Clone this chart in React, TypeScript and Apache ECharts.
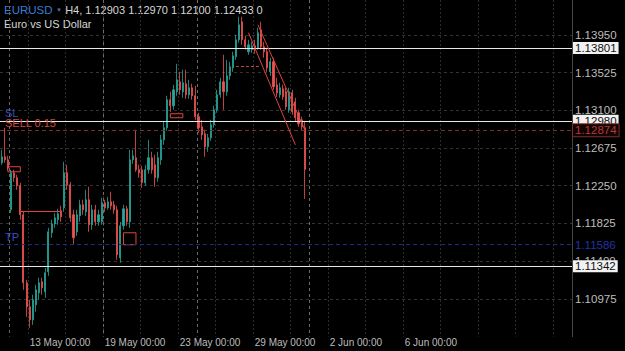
import React, { useEffect, useRef } from 'react';
import * as echarts from 'echarts';

// ---- data ----
const symbolName = 'EURUSD';
const headerInfo = 'H4, 1.12903 1.12970 1.12100 1.12433 0';
const symbolDesc = 'Euro vs US Dollar';

// number of H4 slots across the plot (past candles + chart shift / future)
const slotCount = 183;

// [open, close, low, high]
const candles: number[][] = [
  [1.12508, 1.12575, 1.12485, 1.12654],
  [1.12575, 1.12541, 1.12508, 1.12902],
  [1.12541, 1.12451, 1.12429, 1.12586],
  [1.11978, 1.12395, 1.11944, 1.12429],
  [1.12395, 1.12339, 1.12293, 1.12429],
  [1.12339, 1.12248, 1.12203, 1.12372],
  [1.12248, 1.11922, 1.11865, 1.12282],
  [1.11922, 1.11155, 1.11076, 1.11955],
  [1.11155, 1.10885, 1.10772, 1.11189],
  [1.10885, 1.10738, 1.10648, 1.10964],
  [1.10738, 1.10964, 1.10682, 1.1102],
  [1.10907, 1.11076, 1.10829, 1.11133],
  [1.11043, 1.11155, 1.10964, 1.11212],
  [1.11167, 1.11099, 1.1102, 1.11212],
  [1.11054, 1.11268, 1.10986, 1.11324],
  [1.11279, 1.1173, 1.11234, 1.11775],
  [1.11719, 1.1182, 1.11662, 1.11865],
  [1.1182, 1.11888, 1.11775, 1.11944],
  [1.11865, 1.11933, 1.11809, 1.11989],
  [1.11967, 1.11899, 1.11843, 1.12023],
  [1.12, 1.12395, 1.11955, 1.12519],
  [1.12395, 1.1226, 1.12203, 1.12485],
  [1.1226, 1.11888, 1.11843, 1.12293],
  [1.11922, 1.11662, 1.11584, 1.11978],
  [1.1173, 1.11922, 1.11685, 1.11978],
  [1.1191, 1.12034, 1.11843, 1.12091],
  [1.12034, 1.11978, 1.11922, 1.12091],
  [1.11955, 1.12091, 1.1191, 1.12203],
  [1.12091, 1.11809, 1.1173, 1.12237],
  [1.11809, 1.11978, 1.11753, 1.12034],
  [1.11978, 1.11843, 1.11798, 1.12034],
  [1.11843, 1.11922, 1.11798, 1.11978],
  [1.11843, 1.12057, 1.11809, 1.12113],
  [1.12057, 1.12, 1.11955, 1.12091],
  [1.12, 1.12068, 1.11978, 1.12124],
  [1.12068, 1.12023, 1.11978, 1.12181],
  [1.12034, 1.11978, 1.11933, 1.12079],
  [1.11978, 1.11471, 1.11415, 1.12023],
  [1.11437, 1.11798, 1.11381, 1.11843],
  [1.11798, 1.11989, 1.11753, 1.12034],
  [1.11989, 1.11843, 1.11798, 1.12023],
  [1.11843, 1.12541, 1.11775, 1.12654],
  [1.12541, 1.12586, 1.12496, 1.12654],
  [1.12564, 1.12429, 1.12406, 1.12879],
  [1.12429, 1.12395, 1.12339, 1.12485],
  [1.12429, 1.12282, 1.12226, 1.12474],
  [1.12282, 1.12429, 1.12248, 1.12485],
  [1.12429, 1.12564, 1.12384, 1.12767],
  [1.12564, 1.12429, 1.12384, 1.12632],
  [1.12485, 1.12339, 1.12237, 1.12598],
  [1.12339, 1.12564, 1.12293, 1.12632],
  [1.12541, 1.12767, 1.12485, 1.12823],
  [1.12767, 1.12902, 1.1271, 1.1297],
  [1.12902, 1.13218, 1.12868, 1.13263],
  [1.13218, 1.1315, 1.13082, 1.13308],
  [1.1315, 1.1333, 1.13105, 1.13387],
  [1.13308, 1.13443, 1.13263, 1.13623],
  [1.1342, 1.1333, 1.13274, 1.13533],
  [1.13308, 1.13409, 1.1324, 1.13556],
  [1.13398, 1.13274, 1.13229, 1.13556],
  [1.13274, 1.13353, 1.13229, 1.13443],
  [1.13353, 1.13263, 1.13218, 1.13398],
  [1.13263, 1.13026, 1.12992, 1.13375],
  [1.13026, 1.12902, 1.12846, 1.13071],
  [1.12913, 1.12823, 1.12767, 1.12992],
  [1.12834, 1.12688, 1.12575, 1.12879],
  [1.12688, 1.12789, 1.12632, 1.12834],
  [1.12789, 1.12936, 1.12756, 1.12992],
  [1.12936, 1.13105, 1.12902, 1.1315],
  [1.13105, 1.13274, 1.13071, 1.1333],
  [1.13274, 1.1342, 1.1324, 1.13465],
  [1.1342, 1.13308, 1.13105, 1.13725],
  [1.13308, 1.13488, 1.13263, 1.13668],
  [1.13488, 1.13589, 1.13443, 1.13646],
  [1.13578, 1.13713, 1.13533, 1.13758],
  [1.13702, 1.13894, 1.13668, 1.1395],
  [1.13894, 1.14063, 1.1386, 1.14153],
  [1.14096, 1.13894, 1.13837, 1.14153],
  [1.13894, 1.13815, 1.13781, 1.13939],
  [1.13758, 1.13837, 1.13725, 1.13894],
  [1.13781, 1.13826, 1.13747, 1.13871],
  [1.13826, 1.13781, 1.13736, 1.13894],
  [1.13804, 1.13973, 1.13781, 1.14029],
  [1.14006, 1.13815, 1.13781, 1.14096],
  [1.13815, 1.13758, 1.13691, 1.13871],
  [1.13758, 1.13578, 1.13533, 1.13804],
  [1.13533, 1.13646, 1.13488, 1.13691],
  [1.13646, 1.13364, 1.1333, 1.13691],
  [1.13387, 1.13296, 1.13251, 1.13465],
  [1.13274, 1.13353, 1.1324, 1.13409],
  [1.13341, 1.13251, 1.13218, 1.13387],
  [1.13308, 1.13139, 1.13105, 1.13353],
  [1.13105, 1.13308, 1.13071, 1.13353],
  [1.13296, 1.13082, 1.13048, 1.1333],
  [1.13195, 1.13015, 1.1297, 1.1324],
  [1.13071, 1.12947, 1.12913, 1.13105],
  [1.12992, 1.12913, 1.12879, 1.13026],
  [1.12903, 1.12433, 1.121, 1.1297],
];

// time axis labels and the slots they sit on
const timeLabels = ['13 May 00:00', '19 May 00:00', '23 May 00:00', '29 May 00:00', '2 Jun 00:00', '6 Jun 00:00'];
const timeLabelSlots = [9, 33, 57, 81, 105, 129];
const weekSeparatorSlots = [3, 33, 63, 99];

// price axis
const priceMin = 1.1055;
const priceMax = 1.14342;
const priceStep = 0.00425;

// horizontal levels
const userLevels = [1.13801, 1.1298, 1.11342];
const entryLevel = 1.12874;
const entryText = 'SELL 0.15';
const stopLevel = 1.1298;
const stopText = 'SL';
const takeLevel = 1.11586;
const takeText = 'TP';

// channel lines [slot, price] -> [slot, price]
const channelLines = [
  [[82, 1.14063], [97, 1.12879]],
  [[79, 1.13973], [94, 1.1271]],
];
// trade history marks
const tradeConnector = [[6, 1.11967], [19, 1.11967]];
const tradeDashed = [[75, 1.13601], [83, 1.13601]];
const tradeBoxes = [
  [[2, 1.12463], [6, 1.12406]],
  [[39, 1.11719], [43, 1.11584]],
  [[54, 1.1306], [58, 1.13015]],
];

const FONT = '"Liberation Sans", Arial, sans-serif';
const UP = '#26a69a';
const DOWN = '#ef5350';
const MARK_RED = '#e0453d';

export default function App() {
  const ref = useRef<HTMLDivElement>(null);

  useEffect(() => {
    document.body.style.margin = '0';
    document.body.style.background = '#000';
    const chart = echarts.init(ref.current!, null, { renderer: 'svg' });

    const slots = Array.from({ length: slotCount }, (_, i) => String(i));
    const labelMap: Record<number, string> = {};
    timeLabelSlots.forEach((s, i) => (labelMap[s] = timeLabels[i]));

    const boxLabel = (bg: string, fg: string, border?: string) => ({
      show: true,
      position: 'end',
      distance: 1,
      formatter: (p: any) => Number(p.value).toFixed(5),
      backgroundColor: bg,
      color: fg,
      borderColor: border || 'transparent',
      borderWidth: border ? 1 : 0,
      padding: [0, 2, 0, 2],
      lineHeight: 12,
      fontSize: 11.5,
      fontFamily: FONT,
    });
    const startLabel = (text: string, color: string) => ({
      show: true,
      position: 'insideStartTop',
      distance: [5, 2],
      formatter: text,
      color,
      fontSize: 11,
      fontFamily: FONT,
    });

    const redSolid = { color: MARK_RED, width: 1, type: 'solid', opacity: 1 };
    const redDash = { color: '#c0443a', width: 1, type: [3, 2], opacity: 1 };

    const markLineData: any[] = [];
    userLevels.forEach((v) => {
      markLineData.push({
        yAxis: v,
        lineStyle: { color: '#e8e8e8', width: 1.2, type: 'solid' },
        label: boxLabel('#f2f2f2', '#111'),
      });
    });
    markLineData.push({
      yAxis: stopLevel,
      lineStyle: { color: '#e8e8e8', width: 1.2, type: 'solid' },
      label: startLabel(stopText, '#3550b5'),
    });
    markLineData.push({
      yAxis: entryLevel,
      lineStyle: { color: '#7d2e2b', width: 1, type: [4, 3] },
      label: boxLabel('#120404', '#b03c36', '#7d2e2b'),
    });
    markLineData.push({
      yAxis: entryLevel,
      lineStyle: { color: '#7d2e2b', width: 1, type: [4, 3] },
      label: startLabel(entryText, '#d0473f'),
    });
    markLineData.push({
      yAxis: takeLevel,
      lineStyle: { color: '#1c2a8c', width: 1, type: [4, 3] },
      label: boxLabel('rgba(0,0,0,0)', '#2233a8'),
    });
    markLineData.push({
      yAxis: takeLevel,
      lineStyle: { color: '#1c2a8c', width: 1, type: [4, 3] },
      label: startLabel(takeText, '#3550c5'),
    });
    channelLines.forEach((ln) => {
      markLineData.push([
        { coord: ln[0], lineStyle: redSolid, label: { show: false } },
        { coord: ln[1], lineStyle: redSolid, label: { show: false } },
      ]);
    });
    markLineData.push([
      { coord: tradeConnector[0], lineStyle: redSolid, label: { show: false } },
      { coord: tradeConnector[1], lineStyle: redSolid, label: { show: false } },
    ]);
    markLineData.push([
      { coord: tradeDashed[0], lineStyle: redDash, label: { show: false } },
      { coord: tradeDashed[1], lineStyle: redDash, label: { show: false } },
    ]);

    chart.setOption({
      animation: false,
      backgroundColor: '#000',
      graphic: [
        {
          type: 'text',
          left: 4,
          top: 4,
          silent: true,
          style: {
            text: `{a|${symbolName}} {t|▼} {b|${headerInfo}}`,
            fontFamily: FONT,
            rich: {
              a: { fill: '#3a7bd5', fontSize: 11.5, fontFamily: FONT },
              t: { fill: '#5a6f9a', fontSize: 6, fontFamily: FONT },
              b: { fill: '#d6d6d6', fontSize: 11, fontFamily: FONT },
            },
          },
        },
        {
          type: 'text',
          left: 4,
          top: 18,
          silent: true,
          style: { text: symbolDesc, fill: '#d6d6d6', fontSize: 11, fontFamily: FONT },
        },
      ],
      grid: { left: 0, right: 53, top: 0, bottom: 14.5, containLabel: false },
      xAxis: [
        {
          type: 'category',
          data: slots,
          boundaryGap: true,
          axisLine: { show: false },
          axisTick: { show: false },
          axisLabel: {
            interval: (i: number) => labelMap[i] !== undefined,
            formatter: (_v: string, i: number) => labelMap[i] || '',
            align: 'left',
            color: '#bdbdbd',
            fontSize: 10,
            fontFamily: FONT,
            margin: 1,
          },
          splitLine: {
            show: true,
            interval: (i: number) => i % 12 === 9,
            lineStyle: { color: '#2c2c2c', type: [2, 2], width: 1 },
          },
        },
        {
          type: 'category',
          data: slots,
          boundaryGap: true,
          position: 'bottom',
          axisLine: { show: false },
          axisTick: { show: false },
          axisLabel: { show: false },
          splitLine: {
            show: true,
            interval: (i: number) => weekSeparatorSlots.includes(i),
            lineStyle: { color: '#6a6a6a', type: [3, 3], width: 1 },
          },
        },
      ],
      yAxis: {
        type: 'value',
        position: 'right',
        min: priceMin,
        max: priceMax,
        interval: priceStep,
        scale: true,
        axisLine: { show: true, lineStyle: { color: '#444' } },
        axisTick: { show: false },
        axisLabel: {
          color: '#bdbdbd',
          fontSize: 11.5,
          fontFamily: FONT,
          margin: 3,
          showMinLabel: false,
          showMaxLabel: false,
          formatter: (v: number) => v.toFixed(5),
        },
        splitLine: {
          show: true,
          showMinLine: false,
          showMaxLine: false,
          lineStyle: { color: '#333', type: [3, 3], width: 1 },
        },
      },
      series: [
        {
          type: 'candlestick',
          xAxisIndex: 0,
          data: candles,
          barWidth: 1.6,
          itemStyle: {
            color: UP,
            color0: DOWN,
            borderColor: UP,
            borderColor0: DOWN,
            borderWidth: 0.8,
          },
          markLine: {
            silent: true,
            precision: 5,
            symbol: ['none', 'none'],
            animation: false,
            data: markLineData,
          },
          markArea: {
            silent: true,
            animation: false,
            itemStyle: { color: 'rgba(0,0,0,0)', borderColor: MARK_RED, borderWidth: 1 },
            data: tradeBoxes.map((b) => [{ coord: b[0] }, { coord: b[1] }]),
          },
        },
      ],
    });

    return () => chart.dispose();
  }, []);

  return (
    <div
      ref={ref}
      style={{ position: 'absolute', left: 0, top: 0, width: 625, height: 351, background: '#000' }}
    />
  );
}
